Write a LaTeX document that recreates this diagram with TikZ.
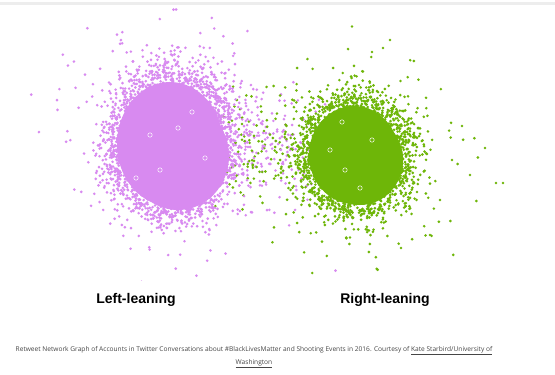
\documentclass[tikz,border=0pt]{standalone}
\usepackage{fontspec}
\setmainfont{Liberation Sans}
\newfontfamily\capfont{Open Sans}
\definecolor{purp}{RGB}{216,138,240}
\definecolor{grn}{RGB}{110,182,8}
\definecolor{captxt}{RGB}{70,70,70}
% dots gathered around the rim of the dense core
\newcommand\dotedge[7]{%
  \foreach \i in {1,...,#1}{%
    \pgfmathsetmacro\myR{0.9+#6*sqrt(-2*ln(0.001+0.998*rnd))*cos(360*rnd)}%
    \pgfmathsetmacro\myT{360*rnd}%
    \fill[#7] ({#2+#4*\myR*cos(\myT)},{#3+#5*\myR*sin(\myT)}) circle[radius=1.45pt];
  }}
% dots thinning out beyond the core
\newcommand\dottail[7]{%
  \foreach \i in {1,...,#1}{%
    \pgfmathsetmacro\myR{1-#6*ln(0.002+0.997*rnd)}%
    \pgfmathsetmacro\myT{360*rnd}%
    \fill[#7] ({#2+#4*\myR*cos(\myT)},{#3+#5*\myR*sin(\myT)}) circle[radius=1.45pt];
  }}
\newcommand\dotbridge[6]{%
  \foreach \i in {1,...,#1}{%
    \pgfmathsetmacro\myX{#2+(#3-#2)*rnd}%
    \pgfmathsetmacro\myR{sqrt(-2*ln(0.001+0.998*rnd))*cos(360*rnd)}%
    \fill[#6] (\myX,{#4+#5*\myR}) circle[radius=1.45pt];
  }}
\tikzset{
  lab/.style={font=\bfseries\fontsize{14}{16}\selectfont, text=black, anchor=base, inner sep=0pt},
  captext/.style={font=\capfont\fontsize{6.6}{7.5}\selectfont, text=captxt, anchor=base, inner sep=0pt},
  speck/.style={draw=white, line width=0.5pt}
}
\begin{document}
\begin{tikzpicture}[x=1pt,y=-1pt]
\useasboundingbox (0,0) rectangle (555,375);
\fill[white] (0,0) rectangle (555,375);
\fill[black!7] (0,1.5) rectangle (555,4.5);
\begin{scope}
\clip (0,5) rectangle (555,280);
\pgfmathsetseed{2016}
% bridge between clusters
\dotbridge{170}{215}{322}{145}{24}{purp}
\dotbridge{130}{212}{312}{150}{26}{grn}
% purple cluster
\fill[purp] (170,144) ellipse[x radius=53, y radius=62];
\fill[purp] (178,156) ellipse[x radius=51, y radius=54];
\dotedge{1050}{172}{145}{61}{70}{0.12}{purp}
\dottail{560}{172}{144}{58}{67}{0.23}{purp}
\dottail{150}{170}{140}{58}{66}{0.42}{purp}
% green cluster
\fill[grn] (354,155) ellipse[x radius=45, y radius=49];
\fill[grn] (360,160) ellipse[x radius=43, y radius=45];
\dotedge{850}{355}{155}{52}{56}{0.12}{grn}
\dottail{450}{356}{155}{51}{55}{0.24}{grn}
\dottail{110}{358}{152}{50}{54}{0.45}{grn}
\foreach \p in {(470,175),(496,183),(503,183),(485,148),(462,126),(452,160),(440,200),(430,235),(390,40),(383,48),(372,52)}
  \fill[grn] \p circle[radius=1.45pt];
% white specks in cores
\foreach \p in {(150,135),(192,112),(160,170),(136,178),(205,158),(178,128),(345,170),(372,140),(342,122),(360,188),(330,150)}
  \draw[speck] \p circle[radius=2.2pt];
\end{scope}
\node[lab] (left) at (136,303) {Left-leaning};
\node[lab] (right) at (385,303) {Right-leaning};
\node[captext] (cap1) at (254,351) {Retweet Network Graph of Accounts in Twitter Conversations about \#BlackLivesMatter and Shooting Events in 2016. Courtesy of \underline{Kate Starbird/University of}};
\node[captext] (cap2) at (254,364) {\underline{Washington}};
\end{tikzpicture}
\end{document}
